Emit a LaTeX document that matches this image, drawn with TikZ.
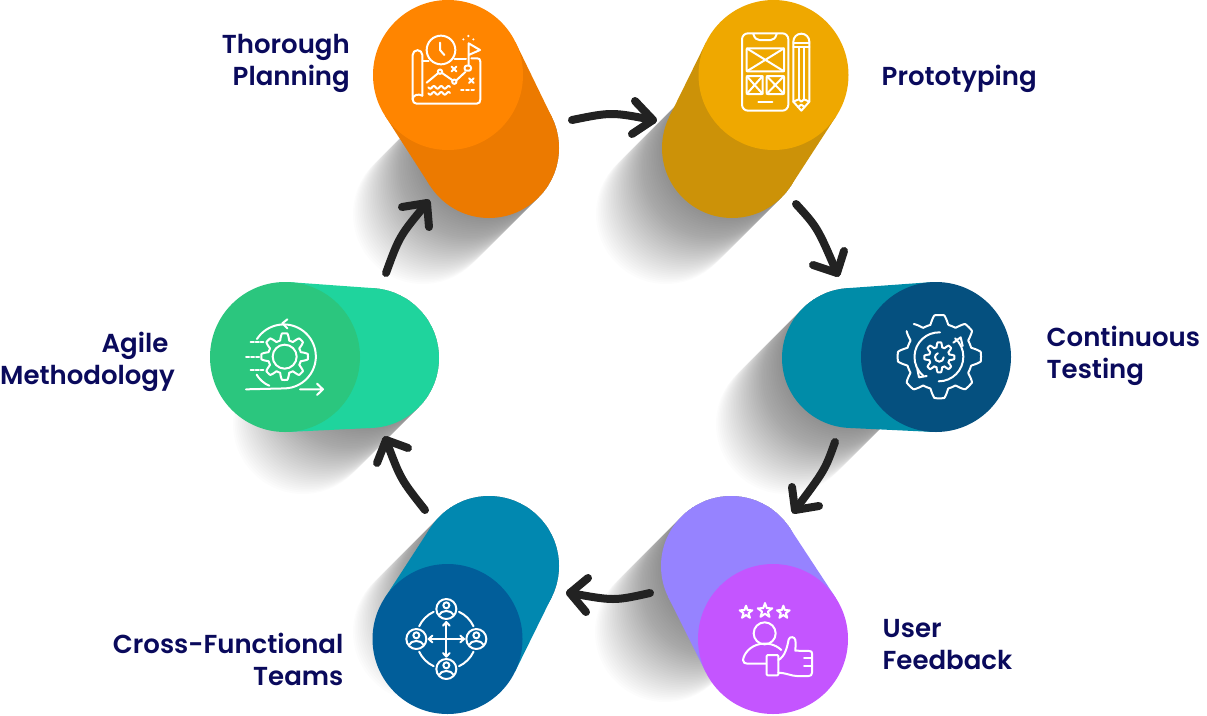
\documentclass[tikz,border=0pt]{standalone}
\usepackage{fontspec}
\setmainfont{Poppins SemiBold}
\usetikzlibrary{arrows.meta}
\definecolor{txt}{HTML}{0A0A5C}
\definecolor{oF}{HTML}{FF8500}\definecolor{oB}{HTML}{EC7A00}
\definecolor{yF}{HTML}{EFA800}\definecolor{yB}{HTML}{CC9208}
\definecolor{tF}{HTML}{05507F}\definecolor{tB}{HTML}{008CA8}
\definecolor{pF}{HTML}{C455FF}\definecolor{pB}{HTML}{9683FF}
\definecolor{bF}{HTML}{015E9A}\definecolor{bB}{HTML}{0188B0}
\definecolor{gF}{HTML}{2BC67E}\definecolor{gB}{HTML}{1FD49D}
\definecolor{arr}{HTML}{222222}
\tikzset{
  label text/.style={font=\fontsize{26}{32}\selectfont,text=txt,inner sep=0pt,align=#1},
  frontdisc/.style={circle,minimum size=150pt,inner sep=0pt,fill=#1},
  backdisc/.style={circle,minimum size=140pt,inner sep=0pt,fill=#1},
  flow/.style={draw=arr,line width=8pt,line cap=round,line join=round},
  icon/.style={draw=white,line width=2pt,line cap=round,line join=round},
  zoomed/.style={shift={#1},x=0.33333pt,y=-0.33333pt,icon},
}
% shadow: stacked translucent round strokes
\newcommand{\castshadow}[2]{%
  \foreach \k in {1,...,40}{%
    \pgfmathsetmacro\dd{\k*1.65}%
    \draw[black,opacity=0.012,line width=140pt,line cap=round] (#1,#2) -- ({#1-\dd},{#2+\dd});
  }}
% cylinder: name, front x,y, back x,y, front colour, back colour
\newcommand{\cylinder}[7]{%
  \pgfmathsetmacro\ddx{#4-#2}\pgfmathsetmacro\ddy{#5-#3}%
  \pgfmathsetmacro\aa{atan2(\ddy,\ddx)}%
  \pgfmathsetmacro\bb{acos(5/veclen(\ddx,\ddy))}%
  \fill[#7] ({#2+75*cos(\aa+\bb)},{#3+75*sin(\aa+\bb)}) -- ({#4+70*cos(\aa+\bb)},{#5+70*sin(\aa+\bb)})
     -- ({#4+70*cos(\aa-\bb)},{#5+70*sin(\aa-\bb)}) -- ({#2+75*cos(\aa-\bb)},{#3+75*sin(\aa-\bb)}) -- cycle;
  \node[backdisc=#7] (#1back) at (#4,#5) {};
  \node[frontdisc=#6] (#1front) at (#2,#3) {};
}
\newcommand{\gearline}[7]{% cx cy R a n start end
  plot[samples=281,domain=#6:#7,variable=\t]
   ({#1+(#3+#4*max(-1,min(1,1.7*cos(#5*\t))))*cos(\t)},{#2+(#3+#4*max(-1,min(1,1.7*cos(#5*\t))))*sin(\t)})}
\newcommand{\starline}[3]{%
  plot[samples at={0,36,...,360},variable=\t]
   ({#1+#3*(0.7+0.3*cos(5*\t))*sin(\t)},{#2-#3*(0.7+0.3*cos(5*\t))*cos(\t)})}
\newcommand{\waveline}[1]{%
  plot[smooth,samples=25,domain=0:65,variable=\t]({205+\t},{#1+4*sin(\t*16.36)})}
\newcommand{\person}[2]{%
  \begin{scope}[shift={(#1,#2)}]
    \draw (0,0) circle[radius=30];
    \draw (0,-11) circle[radius=9];
    \draw (-22,18) .. controls (-16,2) and (16,2) .. (22,18);
  \end{scope}}
\newcommand{\cross}[2]{\draw (#1-7,#2-7) -- (#1+7,#2+7) (#1+7,#2-7) -- (#1-7,#2+7);}
\begin{document}
\begin{tikzpicture}[x=1pt,y=-1pt]
\useasboundingbox (0,0) rectangle (1207,715);
\fill[white] (0,0) rectangle (1207,715);
% shadows
\castshadow{489}{148}
\castshadow{732}{148}
\castshadow{852}{358}
\castshadow{731}{566}
\castshadow{489}{566}
\castshadow{369}{358}
% cylinders
\cylinder{plan}{448}{75}{489}{148}{oF}{oB}
\cylinder{proto}{773.5}{75}{732}{148}{yF}{yB}
\cylinder{test}{936}{357}{852}{358}{tF}{tB}
\cylinder{user}{773}{639}{731}{566}{pF}{pB}
\cylinder{team}{447.5}{639}{489}{566}{bF}{bB}
\cylinder{agile}{285}{357}{369}{358}{gF}{gB}
% connectors
\coordinate (a1s) at (572,120); \coordinate (a1t) at (653,120); \coordinate (a1u) at (635,101); \coordinate (a1v) at (632,134);
\coordinate (a2s) at (796,204); \coordinate (a2t) at (837,273); \coordinate (a2u) at (813,265); \coordinate (a2v) at (844,251);
\coordinate (a3s) at (835,442); \coordinate (a3t) at (795,510); \coordinate (a3u) at (792,487); \coordinate (a3v) at (819,506);
\coordinate (a4s) at (650,593); \coordinate (a4t) at (570,593); \coordinate (a4u) at (588,578); \coordinate (a4v) at (586,612);
\coordinate (a5s) at (425,510); \coordinate (a5t) at (386,440); \coordinate (a5u) at (377,463); \coordinate (a5v) at (408,448);
\coordinate (a6s) at (386,273); \coordinate (a6t) at (427,203); \coordinate (a6u) at (402,207); \coordinate (a6v) at (429,227);
\draw[flow] (a1s) .. controls (611.5,112) .. (a1t); \draw[flow] (a1u) -- (a1t) -- (a1v);
\draw[flow] (a2s) .. controls (817.5,227.5) .. (a2t); \draw[flow] (a2u) -- (a2t) -- (a2v);
\draw[flow] (a3s) .. controls (825,470) .. (a3t); \draw[flow] (a3u) -- (a3t) -- (a3v);
\draw[flow] (a4s) .. controls (614,601) .. (a4t); \draw[flow] (a4u) -- (a4t) -- (a4v);
\draw[flow] (a5s) .. controls (400.5,479) .. (a5t); \draw[flow] (a5u) -- (a5t) -- (a5v);
\draw[flow] (a6s) .. controls (399.5,236) .. (a6t); \draw[flow] (a6u) -- (a6t) -- (a6v);
% labels (anchor base = baseline of the last line)
\node[label text=right,anchor=base east] (lplan) at (350,85) {Thorough\\Planning};
\node[label text=left,anchor=base west] (lproto) at (881.5,85) {Prototyping};
\node[label text=left,anchor=base west] (ltest) at (1046.5,378) {Continuous\\Testing};
\node[label text=left,anchor=base west] (luser) at (882.5,669) {User\\Feedback};
\node[label text=right,anchor=base east] (lteam) at (343.5,685) {Cross-Functional\\Teams};
\node[label text=right,anchor=base east] (lagile) at (175,384) {Agile\kern6.5pt\\Methodology};
% icon: map
\begin{scope}[zoomed={(360,0)}]
  \draw (158,298) -- (158,165) arc[start angle=180,end angle=360,radius=14.5] -- (187,287);
  \draw (187,287) .. controls (175,280) and (158,285) .. (158,298) .. controls (158,306) and (163,311) .. (170,311) -- (350,311) .. controls (358,311) and (361,306) .. (361,298) -- (361,185) .. controls (361,178) and (358,175) .. (352,175) -- (334,175);
  \draw (187,183) -- (206,183) (284,178) -- (318,178);
  \draw (243,150) circle[radius=43];
  \draw (240,128) -- (240,150) -- (253,165);
  \draw (326,197) -- (326,130) -- (360,150) -- (326,165);
  \draw[rounded corners=2pt] (314,197) rectangle (333,212);
  \draw (200,248) -- (235,219) (246,219) -- (278,241) (289,241) -- (316,216);
  \draw (240,215) circle[radius=6.5] (283,245) circle[radius=6.5];
  \cross{282}{207}\cross{334}{242}
  \draw \waveline{262} \waveline{280};
  \draw[dash pattern=on 2.6pt off 2.6pt] (303,271) -- (345,271);
  \fill[white] (325,108) circle[radius=4] (310,118) circle[radius=3.5] (340,118) circle[radius=3.5];
\end{scope}
% icon: phone and pencil
\begin{scope}[zoomed={(660,0)}]
  \draw[rounded corners=6pt] (246,100) rectangle (385,332);
  \draw (280,102) .. controls (284,115) and (290,120) .. (298,120) -- (332,120) .. controls (340,120) and (346,115) .. (350,102);
  \draw[rounded corners=1pt] (260,145) rectangle (372,214);
  \draw (260,145) -- (372,214) (372,145) -- (260,214);
  \draw[rounded corners=1pt] (260,228) rectangle (308,282);
  \draw (260,228) -- (308,282) (308,228) -- (260,282);
  \draw[rounded corners=1pt] (320,228) rectangle (372,282);
  \draw (320,228) -- (372,282) (372,228) -- (320,282);
  \draw (295,307) -- (337,307);
  \draw (400,125) arc[start angle=180,end angle=360,radius=24] -- (448,305) -- (424,332) -- (400,305) -- cycle;
  \draw (400,128) -- (448,128) (400,142) -- (448,142);
  \draw (416,142) -- (416,298) (432,142) -- (432,298);
  \draw (400,305) -- (416,298) -- (424,305) -- (432,298) -- (448,305);
  \draw (414,321) -- (424,314) -- (434,321);
\end{scope}
% icon: gear with cycle
\begin{scope}[zoomed={(770,270)}]
  \draw \gearline{508}{260}{112}{13}{8}{232}{578};
  \draw \gearline{508}{262}{38}{7}{8}{0}{360};
  \draw (521,262) arc[start angle=0,end angle=250,radius=13];
  \draw (510,187) arc[start angle=272,end angle=130,radius=74];
  \draw (506,334) arc[start angle=90,end angle=-48,radius=74];
  \draw (442,298) -- (447,322) -- (470,318);
  \draw (550,218) -- (572,202) -- (578,228);
\end{scope}
% icon: user feedback
\begin{scope}[zoomed={(650,490)}]
  \draw \starline{288}{367}{20};
  \draw \starline{345}{362}{23};
  \draw \starline{400}{367}{20};
  \draw (344,430) circle[radius=33];
  \draw (394,480) .. controls (375,462) and (350,458) .. (330,462) .. controls (300,468) and (282,490) .. (279,510) .. controls (279,518) and (285,521) .. (292,521) -- (348,521);
  \draw[rounded corners=1pt] (350,495) rectangle (385,556);
  \draw (385,510) .. controls (405,500) and (412,470) .. (416,448) .. controls (420,438) and (434,440) .. (436,450) .. controls (438,462) and (436,472) .. (436,482) -- (478,483) .. controls (484,483) and (486,486) .. (486,490) -- (486,548) .. controls (486,555) and (482,558) .. (476,558) -- (440,558) .. controls (425,558) and (405,548) .. (385,548);
  \draw (462,505) -- (486,505) (462,528) -- (486,528);
\end{scope}
% icon: team
\begin{scope}[zoomed={(360,490)}]
  \person{259}{357}\person{259}{537}\person{169}{447}\person{349}{447}
  \draw (259,447) ++(25:90) arc[start angle=25,end angle=65,radius=90];
  \draw (259,447) ++(115:90) arc[start angle=115,end angle=155,radius=90];
  \draw (259,447) ++(205:90) arc[start angle=205,end angle=245,radius=90];
  \draw (259,447) ++(295:90) arc[start angle=295,end angle=335,radius=90];
  \draw (259,397) -- (259,499) (207,447) -- (311,447);
  \draw (249,407) -- (259,396) -- (269,407) (249,489) -- (259,500) -- (269,489);
  \draw (217,437) -- (206,447) -- (217,457) (301,437) -- (312,447) -- (301,457);
\end{scope}
% icon: agile
\begin{scope}[zoomed={(200,270)}]
  \draw \gearline{254}{260}{60}{10}{8}{0}{360};
  \draw (254,260) circle[radius=36];
  \draw (171,207) arc[start angle=213,end angle=450,radius=96] -- (138,358);
  \draw (262,148) -- (247,160) -- (262,175);
  \draw (170,314) .. controls (178,328) and (192,341) .. (208,347);
  \draw[dash pattern=on 3.2pt off 1.8pt] (152,217) -- (190,217) (138,260) -- (178,260) (152,301) -- (190,301);
  \draw (300,358) -- (369,358) (351,341) -- (369,358) -- (351,375);
\end{scope}
\end{tikzpicture}
\end{document}
